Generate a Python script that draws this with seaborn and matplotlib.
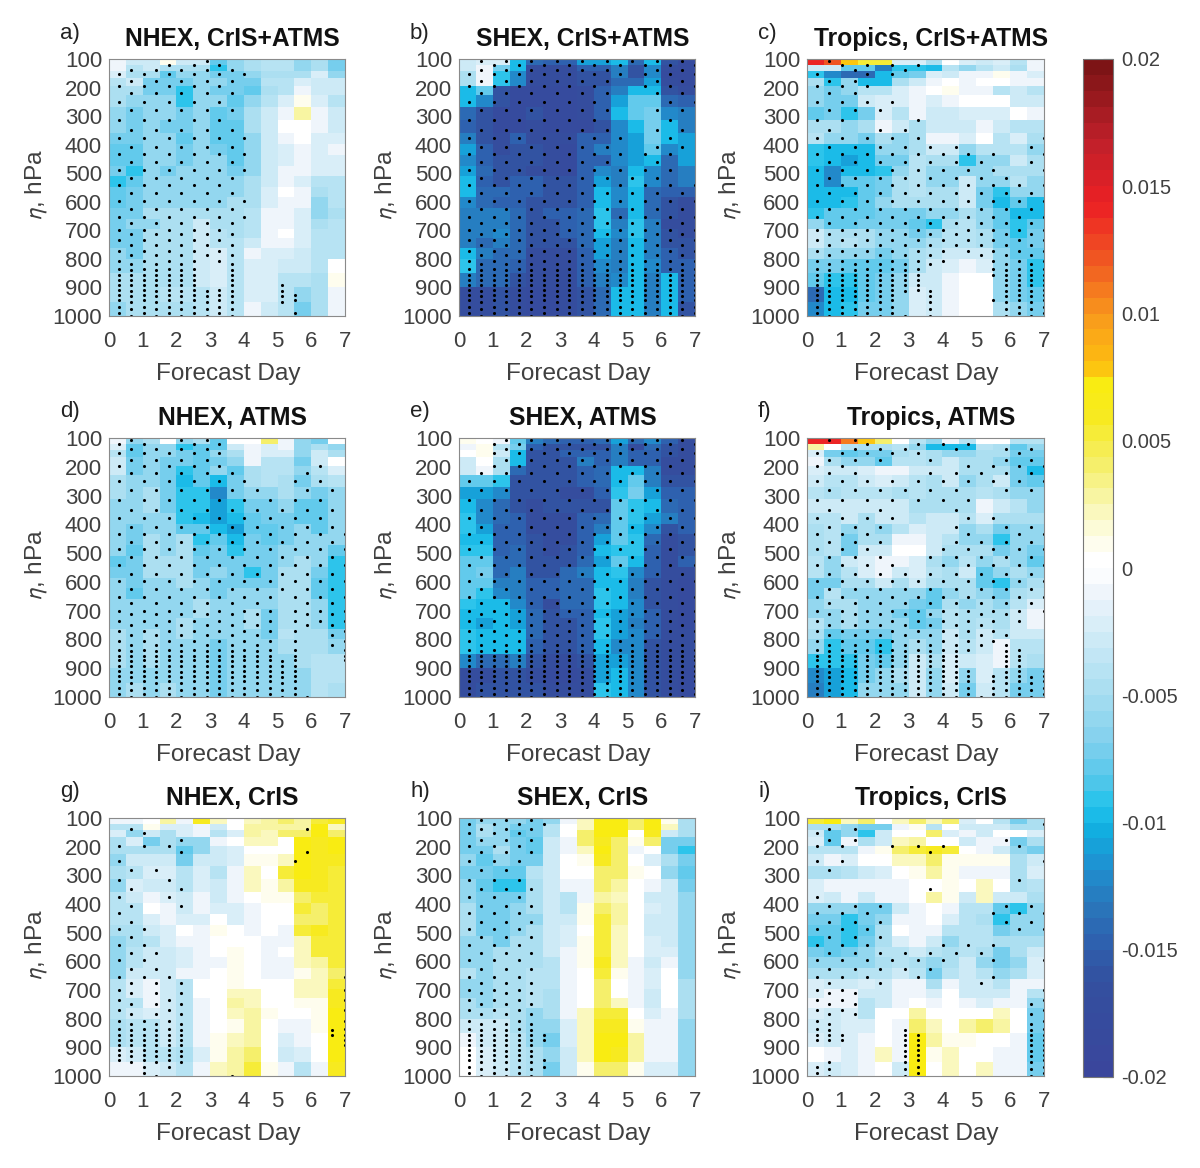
import numpy as np
import pandas as pd
import seaborn as sns
import matplotlib
matplotlib.use('Agg')
import matplotlib.pyplot as plt
from matplotlib.colors import LinearSegmentedColormap

sns.set_style('white')
plt.rcParams['font.family'] = ['Liberation Sans', 'DejaVu Sans']
plt.rcParams['mathtext.fontset'] = 'stixsans'

# model level bands in hPa, one day split in two columns
row_edges = [100, 120, 141, 167, 196, 227, 269, 313, 359, 398, 435, 473, 511, 549, 585,
             622, 660, 695, 727, 762, 800, 850, 900, 950, 1000]
days = [0, 1, 2, 3, 4, 5, 6, 7]
pressure_ticks = [100, 200, 300, 400, 500, 600, 700, 800, 900, 1000]

# stipple levels, odd and even dot columns are staggered
dot_days = np.linspace(0.285, 7.0, 19)
levels_a = [120, 153, 196, 249, 315, 377, 432, 487, 542, 597, 653, 700, 735, 771, 807, 835,
            856, 873, 891, 908, 926, 943, 967, 990]
levels_b = [108, 137, 176, 220, 280, 349, 408, 462, 515, 571, 625, 675, 712, 750, 785, 819,
            840, 857, 875, 893, 914, 931, 951, 974, 1000]

# values in 1e-3
nhex_both = [
    [-1, -3, -3, 1, -3, -3, -8, -6, -5, -4, -4, -6, -5, -7],
    [-1, -4, -3, -5, -5, -5, -9, -6, -5, -4, -4, -6, -5, -7],
    [-2, -5, -5, -8, -6, -6, -7, -7, -6, -5, -5, -5, -2, -6],
    [-4, -3, -7, -7, -7, -6, -6, -7, -7, -4, -4, -2, -3, -3],
    [-5, -5, -7, -7, -9, -6, -7, -7, -8, -5, -4, -1, -3, -3],
    [-5, -6, -6, -6, -9, -6, -6, -8, -6, -4, -2, 1, -2, -4],
    [-6, -7, -6, -6, -7, -6, -8, -7, -5, -3, -1, 3, -1, -3],
    [-6, -7, -6, -7, -7, -6, -8, -8, -5, -3, 0, 0, -1, -3],
    [-7, -7, -6, -6, -8, -6, -8, -8, -6, -3, -1, 0, -2, -2],
    [-8, -8, -6, -6, -7, -6, -7, -8, -6, -3, -2, -1, -2, -1],
    [-8, -8, -6, -6, -7, -6, -6, -8, -6, -3, -2, -1, -2, -2],
    [-7, -9, -6, -7, -6, -6, -6, -7, -6, -3, -1, -1, -2, -2],
    [-9, -8, -6, -6, -6, -6, -6, -6, -5, -3, -1, -2, -4, -4],
    [-8, -7, -6, -6, -6, -6, -6, -6, -5, -2, 0, -1, -5, -4],
    [-8, -7, -6, -6, -6, -6, -6, -5, -5, -2, -1, -1, -6, -4],
    [-7, -7, -5, -5, -5, -5, -5, -5, -4, -1, -1, -2, -6, -5],
    [-7, -6, -6, -5, -5, -3, -5, -5, -4, -1, -1, -2, -5, -4],
    [-7, -7, -5, -5, -5, -3, -4, -5, -4, -1, 0, -2, -4, -4],
    [-7, -7, -5, -5, -5, -3, -4, -4, -3, -1, -1, -2, -4, -4],
    [-6, -7, -5, -5, -5, -3, -2, -4, -1, -2, -2, -3, -4, -4],
    [-6, -6, -5, -5, -5, -3, -2, -4, -2, -2, -3, -3, -4, 0],
    [-5, -5, -5, -5, -5, -3, -2, -4, -2, -2, -4, -4, -5, 1],
    [-5, -5, -5, -4, -4, -4, -3, -4, -2, -2, -4, -6, -5, -1],
    [-6, -5, -5, -5, -5, -4, -3, -4, -1, -3, -4, -7, -5, -1],
]
shex_both = [
    [-3, -2, -2, -10, -14, -15, -15, -11, -11, -10, -14, -10, -16, -18],
    [-3, -1, -7, -10, -17, -17, -17, -15, -15, -13, -16, -12, -17, -18],
    [-5, -1, -9, -12, -17, -17, -17, -16, -16, -13, -16, -12, -18, -18],
    [-5, -1, -9, -12, -17, -17, -17, -16, -16, -14, -14, -11, -17, -18],
    [-10, -8, -16, -18, -18, -18, -18, -17, -15, -13, -10, -10, -16, -17],
    [-10, -12, -16, -18, -18, -18, -18, -17, -15, -11, -8, -8, -14, -15],
    [-14, -16, -18, -18, -16, -18, -18, -17, -15, -10, -8, -7, -12, -13],
    [-15, -16, -18, -18, -17, -18, -18, -18, -16, -12, -10, -7, -10, -13],
    [-13, -16, -17, -15, -17, -17, -17, -15, -15, -12, -11, -7, -10, -11],
    [-11, -15, -17, -16, -16, -17, -18, -15, -13, -12, -11, -8, -12, -11],
    [-12, -15, -16, -16, -16, -17, -18, -15, -15, -12, -11, -10, -14, -11],
    [-11, -14, -16, -16, -17, -17, -18, -15, -12, -13, -10, -12, -14, -13],
    [-10, -15, -16, -15, -15, -16, -16, -15, -11, -13, -9, -12, -14, -13],
    [-10, -14, -14, -15, -15, -16, -16, -15, -10, -12, -10, -14, -15, -15],
    [-12, -14, -15, -15, -16, -16, -16, -15, -10, -12, -10, -14, -16, -17],
    [-13, -13, -13, -14, -16, -15, -15, -14, -9, -14, -10, -14, -16, -17],
    [-13, -13, -13, -14, -16, -16, -15, -14, -9, -13, -9, -13, -17, -17],
    [-13, -13, -12, -14, -16, -16, -15, -14, -10, -12, -9, -13, -16, -17],
    [-13, -14, -13, -14, -16, -16, -16, -14, -11, -13, -10, -13, -16, -16],
    [-10, -13, -14, -14, -17, -17, -17, -15, -11, -13, -10, -13, -15, -16],
    [-9, -14, -14, -15, -17, -17, -17, -15, -12, -13, -10, -12, -15, -15],
    [-13, -14, -14, -16, -17, -17, -17, -15, -13, -12, -10, -13, -10, -15],
    [-17, -17, -16, -17, -18, -18, -17, -16, -14, -10, -10, -13, -10, -15],
    [-17, -17, -16, -17, -18, -18, -17, -16, -14, -10, -10, -13, -10, -16],
]
tropics_both = [
    [14, 12, 8, 5, 5, -2, -2, -5, 0, -2, -3, -2, -4, -1],
    [-3, -3, -8, -8, -13, -9, -9, -10, -4, -6, -4, -3, -5, -1],
    [-9, -12, -14, -14, -10, -8, -7, -2, -3, -1, -1, 1, -1, -2],
    [-5, -9, -6, -10, -10, -5, -3, -1, 0, -1, 0, 0, -1, -1],
    [-6, -7, -6, -4, -4, -2, -1, 0, 1, -1, -1, -4, -3, -4],
    [-6, -7, -7, -3, -2, -2, -1, -2, -1, 0, 0, 0, -3, -3],
    [-8, -7, -9, -7, -2, -4, -1, -3, -3, -2, -2, -2, 0, -1],
    [-5, -5, -6, -5, -1, -3, -5, -3, -3, -3, -1, -3, -4, -4],
    [-4, -6, -6, -7, -5, -6, -5, -1, -1, -2, 0, -4, -2, -5],
    [-9, -10, -10, -10, -6, -6, -5, -3, -3, -6, -4, -4, -4, -6],
    [-9, -10, -11, -10, -7, -7, -4, -5, -5, -9, -6, -6, -3, -5],
    [-10, -12, -10, -10, -9, -6, -4, -6, -6, -6, -6, -5, -5, -5],
    [-10, -12, -8, -8, -7, -5, -4, -6, -6, -3, -6, -6, -4, -6],
    [-10, -10, -10, -8, -7, -5, -4, -5, -5, -3, -7, -9, -6, -6],
    [-10, -10, -9, -8, -6, -5, -5, -5, -5, -3, -7, -10, -8, -10],
    [-9, -8, -8, -8, -7, -7, -7, -6, -6, -5, -6, -8, -10, -10],
    [-6, -8, -8, -7, -7, -7, -8, -9, -5, -4, -6, -8, -9, -8],
    [-3, -5, -5, -5, -6, -6, -7, -6, -4, -4, -5, -7, -9, -7],
    [-3, -5, -4, -5, -6, -6, -6, -5, -4, -4, -5, -7, -8, -7],
    [-5, -6, -6, -6, -7, -6, -5, -4, -3, -3, -3, -6, -8, -8],
    [-7, -7, -8, -8, -8, -7, -5, -3, -2, -1, -2, -6, -7, -9],
    [-8, -9, -9, -8, -7, -6, -3, -3, -1, 0, 0, -6, -7, -9],
    [-14, -10, -10, -8, -7, -6, -2, -3, -1, 0, 0, -6, -7, -8],
    [-12, -10, -9, -7, -7, -6, -2, -3, -1, 0, 0, -5, -6, -7],
]
nhex_atms = [
    [-1, -6, -5, 0, -6, -5, -8, 0, 0, 4, -1, -6, -7, 0],
    [-2, -8, -6, -6, -9, -8, -8, -3, -1, -2, -1, -6, -5, -6],
    [-4, -8, -6, -6, -7, -8, -6, -5, -1, -2, -2, -6, -3, -5],
    [-3, -7, -6, -7, -7, -8, -7, -6, -1, -4, -4, -7, -3, 0],
    [-3, -7, -6, -7, -9, -8, -6, -8, -5, -4, -4, -6, -4, -2],
    [-5, -6, -6, -7, -10, -8, -10, -7, -5, -4, -5, -7, -5, -4],
    [-5, -6, -5, -7, -9, -9, -12, -7, -6, -6, -5, -6, -7, -6],
    [-6, -6, -5, -7, -9, -9, -11, -9, -7, -7, -6, -8, -8, -6],
    [-6, -6, -6, -6, -9, -10, -11, -10, -8, -7, -7, -8, -8, -6],
    [-6, -7, -6, -6, -8, -8, -10, -11, -8, -8, -7, -6, -8, -6],
    [-6, -7, -5, -6, -5, -9, -8, -10, -7, -8, -7, -6, -6, -6],
    [-6, -8, -5, -6, -5, -8, -7, -9, -7, -7, -6, -6, -6, -8],
    [-8, -7, -5, -5, -5, -7, -7, -7, -7, -7, -6, -5, -6, -9],
    [-7, -7, -5, -5, -5, -7, -6, -7, -9, -7, -5, -5, -7, -9],
    [-6, -7, -6, -6, -5, -6, -7, -7, -7, -7, -5, -5, -8, -9],
    [-6, -8, -6, -6, -6, -6, -7, -6, -6, -6, -5, -5, -8, -9],
    [-6, -6, -6, -6, -6, -5, -6, -6, -6, -6, -5, -5, -6, -9],
    [-6, -6, -6, -6, -6, -5, -6, -6, -5, -7, -5, -5, -6, -9],
    [-6, -6, -6, -6, -5, -6, -6, -6, -5, -7, -5, -5, -6, -9],
    [-5, -6, -5, -6, -5, -6, -6, -6, -6, -7, -4, -5, -5, -7],
    [-5, -6, -5, -6, -6, -6, -7, -6, -6, -6, -5, -5, -5, -6],
    [-5, -6, -5, -6, -6, -6, -7, -6, -6, -6, -6, -5, -4, -4],
    [-6, -6, -6, -6, -6, -6, -7, -6, -6, -6, -6, -6, -4, -4],
    [-6, -5, -6, -5, -6, -6, -7, -6, -6, -6, -6, -6, -4, -5],
]
shex_atms = [
    [1, 0, -1, -8, -13, -14, -15, -15, -14, -11, -14, -12, -15, -17],
    [-1, 1, -4, -7, -15, -16, -16, -16, -16, -13, -17, -14, -16, -17],
    [0, 1, -3, -10, -16, -16, -15, -15, -15, -13, -15, -15, -16, -17],
    [-3, 0, -5, -10, -16, -16, -16, -13, -15, -13, -15, -15, -17, -17],
    [-3, -1, -5, -14, -16, -16, -16, -15, -14, -10, -10, -13, -17, -17],
    [-8, -8, -9, -16, -16, -16, -16, -15, -14, -10, -8, -13, -16, -16],
    [-11, -11, -12, -16, -16, -16, -17, -17, -15, -9, -7, -11, -15, -15],
    [-10, -12, -14, -16, -17, -16, -16, -16, -16, -8, -9, -10, -14, -15],
    [-9, -12, -14, -15, -17, -17, -17, -15, -14, -8, -9, -11, -13, -15],
    [-9, -11, -15, -15, -17, -17, -17, -15, -13, -8, -10, -12, -16, -15],
    [-10, -10, -15, -15, -16, -17, -17, -15, -11, -8, -9, -14, -17, -16],
    [-9, -9, -15, -14, -16, -17, -16, -15, -10, -9, -9, -15, -17, -16],
    [-8, -8, -14, -14, -16, -16, -16, -14, -11, -8, -10, -15, -17, -15],
    [-8, -7, -14, -13, -16, -16, -14, -13, -10, -9, -12, -15, -17, -17],
    [-8, -8, -13, -13, -15, -15, -14, -14, -10, -10, -13, -16, -17, -18],
    [-8, -9, -12, -13, -15, -15, -14, -14, -9, -10, -13, -16, -17, -18],
    [-9, -10, -10, -12, -15, -17, -14, -14, -9, -10, -12, -16, -17, -18],
    [-10, -10, -10, -11, -14, -16, -15, -15, -10, -11, -12, -15, -17, -18],
    [-10, -11, -10, -11, -14, -16, -16, -15, -9, -11, -13, -15, -17, -18],
    [-9, -10, -10, -10, -14, -16, -16, -15, -9, -11, -12, -15, -17, -17],
    [-9, -10, -10, -10, -15, -16, -16, -15, -10, -12, -12, -16, -17, -17],
    [-12, -14, -14, -13, -16, -17, -17, -16, -11, -11, -12, -16, -17, -17],
    [-17, -17, -16, -16, -17, -18, -18, -17, -11, -10, -12, -16, -17, -18],
    [-17, -16, -16, -16, -16, -17, -17, -17, -9, -10, -12, -16, -17, -18],
]
tropics_atms = [
    [14, 14, 11, 8, 4, 0, -4, -6, -1, -4, 0, 0, -4, -4],
    [3, 0, -4, -5, -5, -4, -6, -10, -10, -10, -4, -5, -8, -6],
    [-2, -7, -8, -7, -7, -5, -4, -5, -6, -6, -5, -5, -7, -7],
    [-1, -5, -6, -6, -8, -4, -4, -5, -3, -5, -5, -6, -8, -8],
    [-2, -3, -3, -2, -1, -1, -3, -3, -3, -5, -5, -5, -7, -10],
    [-3, -4, -4, -3, -2, -3, -4, -5, -3, -6, -5, -3, -7, -8],
    [-4, -5, -4, -4, -4, -5, -4, -5, -5, -5, -4, -5, -6, -6],
    [-3, -3, -3, -3, -3, -3, -5, -5, -5, -5, -1, -3, -4, -6],
    [-4, -4, -3, -5, -3, -3, -4, -3, -3, -4, -2, -5, -5, -5],
    [-5, -4, -6, -5, -6, -4, -2, -3, -3, -6, -5, -7, -6, -6],
    [-5, -4, -7, -5, -5, -1, -1, -3, -4, -6, -6, -9, -6, -6],
    [-5, -4, -7, -3, -3, 0, 0, -3, -5, -5, -5, -7, -6, -7],
    [-4, -6, -3, -2, -1, -1, -2, -5, -6, -4, -6, -5, -6, -8],
    [-4, -6, -4, -2, -1, -3, -2, -4, -5, -3, -8, -6, -5, -6],
    [-7, -7, -5, -5, -3, -5, -3, -5, -5, -5, -8, -9, -6, -5],
    [-7, -4, -6, -6, -6, -6, -6, -8, -6, -5, -6, -7, -5, -4],
    [-6, -5, -5, -6, -6, -6, -7, -8, -5, -6, -5, -6, -4, -2],
    [-6, -6, -5, -6, -6, -7, -8, -6, -4, -5, -5, -5, -3, -1],
    [-4, -6, -5, -6, -6, -6, -8, -7, -4, -5, -4, -5, -3, -1],
    [-5, -8, -7, -7, -7, -6, -6, -6, -3, -5, -3, -4, -3, -3],
    [-6, -9, -8, -8, -9, -6, -5, -6, -3, -4, -3, -1, -4, -4],
    [-9, -9, -9, -7, -8, -6, -3, -5, -2, -3, -2, -1, -4, -5],
    [-12, -11, -10, -7, -6, -5, -3, -6, -2, -6, -2, -4, -6, -7],
    [-13, -11, -10, -6, -6, -6, -3, -6, -3, -7, -3, -4, -7, -7],
]
nhex_cris = [
    [-1, -1, 0, 3, -1, 6, 2, 0, 2, 3, 4, 3, 5, 6],
    [-4, -4, 1, -2, -2, -1, -3, 0, 3, 3, 3, 3, 7, 2],
    [-2, -6, -3, -5, -2, -1, -4, -2, 3, 2, 4, 4, 7, 4],
    [-5, -2, -7, -5, -6, -6, -1, 0, 2, 2, 0, 7, 6, 7],
    [-5, -5, -5, -5, -8, -6, -3, -2, 0, 0, 0, 7, 6, 7],
    [-6, -3, -3, -3, -7, -3, -3, -2, 1, 1, 2, 7, 6, 6],
    [-5, -4, -2, -2, -4, -2, -4, -1, 2, 0, 5, 7, 6, 5],
    [-6, -2, -3, -3, -4, -2, -3, -1, 2, 1, 3, 6, 6, 5],
    [-4, -3, -1, -2, -3, -1, -3, -1, 0, 1, 1, 4, 5, 5],
    [-4, -4, 0, -1, -3, -1, -2, -2, -1, 0, 0, 5, 4, 5],
    [-4, -4, -2, -1, -2, -2, 0, -2, -1, 0, 0, 4, 4, 5],
    [-5, -5, -3, -2, 0, -1, 1, 0, -1, 0, -1, 5, 6, 5],
    [-6, -5, -4, -2, -1, -1, 0, 0, 0, -1, -1, 2, 5, 5],
    [-6, -4, -3, -3, -2, -1, 0, 1, 0, -1, 0, 2, 5, 5],
    [-6, -4, -3, -3, -2, -1, -1, 1, 0, -1, -1, 2, 3, 5],
    [-6, -3, -3, -3, -1, -1, 0, 1, 0, -1, -1, 1, 2, 4],
    [-4, -2, -1, -3, -4, 0, 0, 1, 0, 0, 0, 2, 2, 5],
    [-4, -2, -1, -3, -4, 0, 0, 2, 2, 0, 0, 2, 2, 6],
    [-4, -4, -1, -3, -4, -1, 0, 3, 2, 0, 0, 1, 1, 6],
    [-4, -3, -2, -3, -4, -1, 0, 2, 3, 1, 0, 0, 1, 7],
    [-5, -4, -4, -3, -4, -1, 0, 1, 3, 0, -1, -1, 1, 7],
    [-5, -4, -4, -3, -4, -1, 1, 2, 3, 0, -2, -1, 0, 7],
    [-2, -3, -4, -4, -5, -2, 1, 3, 4, 0, -3, -2, 0, 7],
    [-1, -1, -2, -3, -4, -1, 2, 3, 5, 1, -1, -4, -1, 6],
]
shex_cris = [
    [-7, -6, -6, -6, -7, -6, -1, 2, 7, 7, 4, 7, 1, -5],
    [-7, -5, -6, -7, -7, -4, 0, 2, 7, 7, 4, 7, 2, -5],
    [-7, -5, -6, -8, -7, -4, 0, 4, 7, 7, 0, 6, -3, -5],
    [-7, -6, -6, -7, -8, -3, -1, 4, 6, 4, 1, 4, -7, -7],
    [-7, -7, -5, -7, -8, -3, -1, 2, 7, 4, -1, 0, -7, -9],
    [-6, -8, -6, -7, -7, -3, 0, 1, 6, 4, 0, -2, -5, -7],
    [-7, -7, -8, -8, -4, -3, 0, 0, 4, 4, 1, 0, -6, -8],
    [-6, -8, -9, -9, -5, -3, -1, -1, 4, 3, 0, -1, -3, -7],
    [-6, -7, -7, -7, -5, -3, -4, -1, 3, 2, 0, -3, -3, -6],
    [-5, -7, -7, -6, -5, -3, -4, 1, 4, 3, 0, -2, -3, -6],
    [-5, -7, -7, -6, -6, -3, -3, 1, 5, 3, 0, -3, -3, -6],
    [-5, -7, -7, -6, -5, -3, -2, 0, 5, 2, 0, -3, -3, -6],
    [-6, -6, -7, -5, -5, -3, -2, 1, 5, 2, 0, -2, -3, -6],
    [-6, -6, -5, -5, -5, -3, -1, 1, 5, 2, 0, -2, -2, -6],
    [-6, -6, -5, -5, -5, -4, -1, 1, 6, 2, -1, -3, -1, -6],
    [-4, -6, -5, -5, -4, -4, -1, 0, 5, 1, -1, -2, 0, -6],
    [-6, -6, -5, -5, -4, -4, -1, 0, 4, 0, -1, -2, 0, -5],
    [-6, -6, -5, -5, -4, -5, -1, 0, 4, 0, -1, -3, 0, -5],
    [-5, -6, -5, -5, -4, -5, -1, 0, 4, 2, -1, -3, 0, -5],
    [-5, -5, -4, -5, -6, -5, -1, 2, 5, 5, 0, -2, -1, -5],
    [-3, -3, -3, -5, -6, -6, -2, 2, 6, 6, 1, -1, -1, -6],
    [-1, -3, -3, -4, -6, -7, -2, 2, 7, 7, 3, -1, -1, -6],
    [0, -2, -3, -4, -5, -6, -3, 2, 7, 6, 3, -1, -1, -6],
    [0, -2, -3, -4, -5, -7, -3, 1, 4, 4, 1, -2, -2, -6],
]
tropics_cris = [
    [5, 7, 2, 4, 0, 2, 4, 2, 4, -2, 0, -4, -7, -5],
    [-5, -5, -6, -7, -7, -1, 1, -4, 0, -3, -3, -3, -5, -5],
    [-3, -8, -6, -9, -3, 0, 0, 4, -2, -1, -3, 0, 0, -2],
    [-2, -8, -1, -5, -3, 2, 3, 0, 0, -3, -1, -1, -7, -5],
    [-4, -4, -4, -1, 1, 4, 5, 6, 5, 0, -1, -3, -6, -7],
    [-3, -1, -2, 0, 0, 2, 2, 4, 1, 1, 1, 1, -5, -3],
    [-5, -5, -4, -3, -2, 0, 1, 3, 1, -1, -1, -1, -5, -2],
    [-2, -1, -1, -1, -1, -1, 0, 0, 1, 0, 2, 0, -5, -4],
    [-2, -3, -1, -3, -1, -1, 0, 3, 1, -3, 2, -3, -3, -5],
    [-6, -6, -6, -7, -7, -3, -1, 0, -1, -4, -4, -8, -9, -6],
    [-7, -7, -9, -7, -6, -1, -1, 0, -2, -4, -5, -9, -6, -6],
    [-8, -8, -9, -8, -5, 0, -1, -1, -4, -4, -4, -7, -6, -6],
    [-9, -8, -9, -7, -5, -2, -1, -3, -6, -4, -4, -5, -5, -5],
    [-7, -8, -7, -6, -4, -4, -3, -4, -5, -4, -5, -7, -5, -3],
    [-6, -6, -6, -6, -5, -4, -5, -6, -5, -3, -6, -7, -6, -2],
    [-5, -5, -5, -4, -4, -3, -4, -7, -4, -3, -4, -6, -5, -2],
    [-2, -3, -3, -2, -3, -1, -1, -5, -1, -3, -3, -4, -1, -1],
    [-2, -1, -1, -3, -3, -1, -1, -2, 0, -3, -3, -3, -1, -4],
    [-1, -1, -1, -4, -3, -1, 0, -1, 0, -1, -2, -1, -1, -6],
    [-2, -3, -2, -4, 0, 0, 3, 0, 0, 0, 0, 2, 0, -7],
    [-3, -3, -2, -2, 0, -1, 4, 2, 0, 3, 4, 3, 0, -7],
    [-2, -3, -2, -1, 0, -1, 7, 3, 1, 1, 0, 0, -1, -8],
    [0, -1, -2, -1, 2, -1, 7, 1, 2, 0, 0, -1, -1, -8],
    [-2, -3, -2, -1, 0, -3, 7, 0, 2, 0, 2, -1, -1, -7],
]

# significance dots: row = level index, character = dot column
dots_a = ["....x.xxx", "xxxxxxxxxxx", "xxxxxxxxxx", "xxxxxxxxxx", "xxxxxxxxxx", "xxxxxxxxxxx",
          "xxxxxxxxxxx", "xxxxxxxxxxx", "xxxxxxxxxx", "xxxxxxxxxxx", "xxxxxxxxxxx", "xxxxxxxxxx",
          "xxxxxxxxxx", "xxxxxxxxxx", "xxxxxxxxxx", "xxxxxxx..x", "xxxxxxx..x", "xxxxxxx..x",
          "xxxxxxx..x", "xxxxxxx.xx...x", "xxxxxxxxxx...xx", "xxxxxxxxxx...xx", "xxxxxxxxxx...x",
          "xxxxxxxxxx....x", ".x.x.x.x.x"]
dots_b = [".xxxxxxxxxxxxxxxxxx", "xxxxxxxxxxxxx.xxxxx", "xxxxxxxxxxxx..xxxxx", "xxxxxxxxxxxx...xxxx",
          "xxxxxxxxxxxx...xxx.", "xxxxxxxxxxxxx..xxx.", "xxxxxxxxxxxxx.xxxx.", "xxxxxxxxxxxxx.xxx..",
          "xxxxxxxxxxxxxxxxx.x"] + ["xxxxxxxxxxxxxxxxxxx"] * 15 + [".x.x.x.x.x.x.x.x.x"]
dots_c = [".xx.x.x.x", "x..xx.xx", "xxxxx", "xxxxx.x", "xxxx.x..x", "xxx.xxxxx.........x",
          "xxxxxxxxxxxxx.x..xx", "xxxxxxxxxxxxxxx..xx", "xxxxxxxxxxxxxxxxx.x", "xxxxxxxxxxxxxxxxxxx",
          "xxxxxxxxxxxxxxxxxxx", "xxxxxxxxxxxxxxxxxxx", "xxxxxxxxxxxxxxxxxxx", "xxxxxxxxxxxxxxxxxxx",
          "xxxxxxxxxxx..xxxxxx", "xxxxxxxxxx....xxxxx", "xxxxxxxxx.....xxxxx", "xxxxxxxxx......xxxx",
          "xxxxxxxxx......xxxx", "xxxxxxxxx......xxxx", "xxxxxxxx.x.....xxxx", "xxxxxxx..x....xxxxx",
          "xxxxxxx..x.....xxxx", "xxxxxxx..x.....xxxx", ".x.x.x.x.x.....x.x"]
dots_d = ["xxx..xxxx", "xxxxxxxxx", "xxxxxxxxx.......x", "xxxxxxxxxxx...xxx", "xxxxxxxxxxxxx.xxxx",
          "xxxxxxxxxxxxxxxxxx", "xxxxxxxxxxxxxxxxxxx", "xxxxxxxxxxxxxxxxxxx", "xxxxxxxxxxxxxxxxxxx",
          "xxxxxxxxxxxxxxxxxxx", "xxxxxxxxxxxxxxxxxxx", "xxxxxxxxxxxxx.xxxxx", "xxxxxxxxxxxxx.xxxxx",
          "xxxxxxxxxxxxx.xx.xx", "xxxxxxxxxxxxx.x..xx", "xxxxxxxxxxxxx.x..xx", "xxxxxxxxxxxxx.x...x",
          "xxxxxxxxxxxxx.x...x", "xxxxxxxxxxxxxxx", "xxxxxxxxxxxxxxx", "xxxxxxxxxxxxxxx", "xxxxxxxxxxxxxxx",
          "xxxxxxxxxxxxxxx", "xxxxxxxxxxxxxxx", ".x.x.x.x.x.x.x.x"]
dots_e = ["..xxxxxxxxxxxxxxxxx", "..xxxxxxxxxxxxxxxxx", "..xxxxxxxxxxxxxxxxx", "xxxxxxxxxxxxxxxxxxx",
          "xxxxxxxxxxxxx.xxxxx"] + ["xxxxxxxxxxxxxxxxxxx"] * 19 + [".x.x.x.x.x.x.x.x.x"]
dots_f = [".x.xx...x.x.x", "x.xxxxxxx..x...xxx", "xxxx.x...x..x.xxxxx", "xxxxx.x.xxxxxxxxxxx",
          "xxxxxxxxxxxxx..x.x", "xxx.xxx....xx.x", "xxxxxx.....xx..xxxx", "xxxxxx....xxxxxxxxx",
          "xxxxxxx..xxxxxxxxxx", "xxxxxxxxxxxxxxxxxxx", "xxxxxxxxxxxxxxxxxxx", "xxxxxxxxxxxxxxxxxxx",
          "xxxxxxxxxxxxxxxxx", "xxxxxxxxxxxxxxx", "xxxxxxxxxxxxxxxx", "xxxxxxxxxxxxxx.xx",
          "xxxxxxxxxxxx...xx", "xxxxxxxxxxxx...xx", "xxxxxxxxxxxx...xx", "xxxxxxxxxxxxx..xx.x",
          "xxxxxxxxxxxxx.xxx.x", "xxxxxxxxxxxxx.xxxxx", "xxxxxxxxxxxxx.xxxxx", "xxxxxxxxxxxxx.xxxxx",
          ".x.x.x.x.x.x.x.x.x"]
dots_g = ["", ".xx............x", "x.x.xx", "x....x........xx", "xx.xx", "xx..xx", "xx...x", "xxx", "xxx",
          "xxxx", "xxxxx.............x", "xx.x.x............x", "xx.xxx............x", "xx.xxx............x",
          "xxxxxx............x", "xxxxxx............x", "xxxxxx...........xx", "xxxxxx...........xx",
          "xxxxxx............x", "xxxxxx", "xxxxxx", "xxxxxx", ".xxxxx", "..x", "...x.....x"]
dots_h = ["xxxxxxx", "xxxxxx", "xxxxxx", "xxxxxx", "xxxxx", "xxxxxx", "xxxxxx", "xxxxxx", "xxxxxx", "xxxxxx",
          "xxxxxx", "xxxxxx", "xxxxxx", "xxxxxx", "xxxxxx", "xxxxxx", "xxxxxxx", "xxxxxxx", "xxxxxx", "xxxxxx",
          "xxxxxx", "xxxxxxx", "xxxxxxx", "xxxxxx", ".x.x.x"]
dots_i = ["..................x", "xx.x", "xxxx..x.x.x....xx", "x.x......x........x", ".x..............x",
          "x........x", "xxxxxx........xxxxx", "xxxxxx.........xxxx", "xxxxxx....x.x.x", "xxxxxxxxxxxx.xx...x",
          "xxxxxx.xxx....x", "xxx..x.......x....x", "xxxx..............x", "xxxx.............xx",
          "xx.x.............xx", "xx...............xx", "xxx....xx........xx", "xxx....xx........xx",
          ".x.....xx........xx", ".......xx........xx", ".......xx........xx", ".......xx........xx",
          "xx.....xx........xx", "xx.....xx........xx", ".x.....x.........x"]

titles = ['NHEX, CrIS+ATMS', 'SHEX, CrIS+ATMS', 'Tropics, CrIS+ATMS',
          'NHEX, ATMS', 'SHEX, ATMS', 'Tropics, ATMS',
          'NHEX, CrIS', 'SHEX, CrIS', 'Tropics, CrIS']
letters = ['a)', 'b)', 'c)', 'd)', 'e)', 'f)', 'g)', 'h)', 'i)']
fields = [nhex_both, shex_both, tropics_both, nhex_atms, shex_atms, tropics_atms,
          nhex_cris, shex_cris, tropics_cris]
dot_masks = [dots_a, dots_b, dots_c, dots_d, dots_e, dots_f, dots_g, dots_h, dots_i]

cbar_ticks = [-0.02, -0.015, -0.01, -0.005, 0, 0.005, 0.01, 0.015, 0.02]
cbar_labels = ['-0.02', '-0.015', '-0.01', '-0.005', '0', '0.005', '0.01', '0.015', '0.02']

# colour table
cmap_values = [-0.02, -0.0165, -0.015, -0.0135, -0.012, -0.0105, -0.0095, -0.0085, -0.007, -0.005,
               -0.003, -0.001, 0, 0.0005, 0.002, 0.004, 0.006, 0.0075, 0.008, 0.01, 0.012, 0.0145,
               0.017, 0.02]
cmap_colors = ['#3a469c', '#33509f', '#2e60ae', '#2a76ba', '#1f8fd0', '#12ade0', '#1fc3ec', '#50c6ea',
               '#80d0ee', '#a8def0', '#cbe9f6', '#eef5fb', '#ffffff', '#ffffff', '#fbf9c8', '#f5ef70',
               '#f7ea20', '#f9ec10', '#fdc010', '#f99b1c', '#f15f22', '#ec2024', '#c0202a', '#7d1416']
cmap = LinearSegmentedColormap.from_list(
    'ddr', [((v + 0.02) / 0.04, c) for v, c in zip(cmap_values, cmap_colors)], N=64)

W, H = 1200, 1168
TEXT = '#404040'
fig = plt.figure(figsize=(W / 100, H / 100), dpi=100)


def axes_px(left, top, right, bottom):
    return fig.add_axes([left / W, 1 - bottom / H, (right - left) / W, (bottom - top) / H])


def draw_panel(ax, field, mask):
    heights = np.diff(row_edges)
    grid = np.repeat(np.array(field) / 1000.0, heights, axis=0)
    sns.heatmap(pd.DataFrame(grid), ax=ax, cmap=cmap, vmin=-0.02, vmax=0.02, cbar=False,
                xticklabels=False, yticklabels=False)
    xs, ys = [], []
    for r, row in enumerate(mask):
        for c, ch in enumerate(row):
            lev = levels_a if c % 2 == 0 else levels_b
            if ch == 'x' and r < len(lev):
                xs.append(dot_days[c] * 2)
                ys.append(lev[r] - 100)
    sns.scatterplot(x=xs, y=ys, ax=ax, color='black', s=5, linewidth=0, legend=False)
    ax.set_xlim(0, 14)
    ax.set_ylim(900, 0)
    ax.set_xticks([d * 2 for d in days])
    ax.set_xticklabels(days)
    ax.set_yticks([p - 100 for p in pressure_ticks])
    ax.set_yticklabels(pressure_ticks)
    ax.tick_params(axis='both', direction='in', length=2.5, width=0.6, color='#555555',
                   labelsize=16, labelcolor=TEXT, pad=5, left=True, bottom=True)
    ax.tick_params(axis='x', labelrotation=0, pad=10.5)
    ax.tick_params(axis='y', labelrotation=0)
    for s in ax.spines.values():
        s.set_visible(True)
        s.set_color('#8a8a8a')
        s.set_linewidth(0.8)


lefts = [(109, 345, 73), (459, 695, 73), (807, 1044, 77)]
tops = [(59, 316), (438, 697), (818, 1076)]
mesh = None
for i in range(9):
    left, right, ylab = lefts[i % 3]
    top, bottom = tops[i // 3]
    ax = axes_px(left, top, right, bottom)
    draw_panel(ax, fields[i], dot_masks[i])
    mesh = ax.collections[0]
    ax.set_xlabel('Forecast Day', fontsize=17.6, color=TEXT, va='center', visible=True)
    ax.set_ylabel(r'$\eta$, hPa', fontsize=17.6, color=TEXT, va='center', visible=True)
    ax.xaxis.set_label_coords(0.505, -58 / (bottom - top))
    ax.yaxis.set_label_coords(-ylab / (right - left), 0.51)
    fig.text((left + right) / 2 / W + 0.0045, 1 - (top - 20) / H, titles[i], fontsize=17.7,
             fontweight='bold', color='#111111', ha='center', va='center')
    fig.text((left - 49) / W, 1 - (top - 26) / H, letters[i], fontsize=16, color='#222222',
             ha='left', va='center')

cax = axes_px(1083, 59, 1113, 1077)
cb = fig.colorbar(mesh, cax=cax)
cb.set_ticks(cbar_ticks)
cb.set_ticklabels(cbar_labels)
cb.ax.tick_params(direction='in', length=7.5, width=0.8, color='#555555', labelsize=14.5,
                  labelcolor=TEXT, pad=6, right=True)
cb.outline.set_edgecolor('#777777')
cb.outline.set_linewidth(0.8)

fig.savefig('out.png', dpi=100)
